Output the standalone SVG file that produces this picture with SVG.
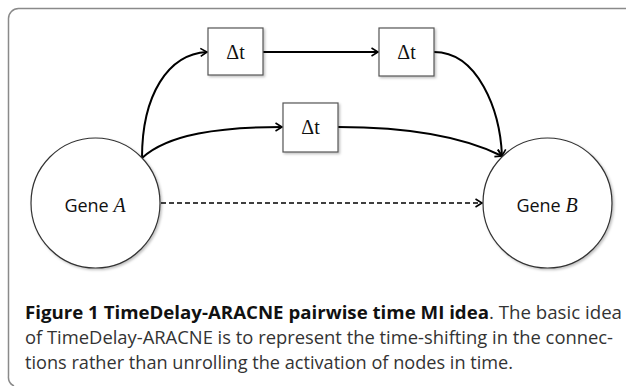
<svg xmlns="http://www.w3.org/2000/svg" width="628" height="386" viewBox="0 0 628 386">
<defs>
<style>
.box{fill:#fff;stroke:#555;stroke-width:1.2;filter:url(#sh)}
.node{fill:#fff;stroke:#333;stroke-width:1.2;filter:url(#sh)}
.dt{font-family:"Liberation Serif",serif;font-size:20px;fill:#111;text-anchor:middle}
.gene{font-family:"Open Sans","Liberation Sans",sans-serif;font-size:18px;fill:#111;text-anchor:middle}
.gi{font-family:"Liberation Serif",serif;font-style:italic;font-size:20px}
.edge{fill:none;stroke:#000;stroke-width:2;marker-end:url(#arr)}
.dash{fill:none;stroke:#000;stroke-width:1.6;stroke-dasharray:5 3;marker-end:url(#arr)}
.cap{font-family:"Open Sans","Liberation Sans",sans-serif;font-size:18.5px;fill:#333}
.capb{font-weight:bold;fill:#111}
</style>
<marker id="arr" markerWidth="10" markerHeight="10" refX="7.5" refY="5" orient="auto" markerUnits="userSpaceOnUse">
<path d="M1,1 L7.5,5 L1,9" fill="none" stroke="#000" stroke-width="1.6"/>
</marker>
<filter id="sh" x="-10%" y="-10%" width="130%" height="130%">
<feDropShadow dx="1.5" dy="1.5" stdDeviation="1" flood-color="#000" flood-opacity="0.25"/>
</filter>
</defs>
<path d="M626,8.5 H18.5 A10,10 0 0 0 8.5,18.5 V376 A10,10 0 0 0 14,386" fill="none" stroke="#8a8a8a" stroke-width="1.5"/>
<g id="connectors">
<path class="edge" d="M142,158 C142,95 168,54 207,52"/>
<path class="edge" d="M263,52 H378"/>
<path class="edge" d="M434,52 C478,52 500,110 502,156"/>
<path class="edge" d="M142,158 C168,134 220,127 282,127"/>
<path class="edge" d="M338,127 C420,127 470,140 502,156"/>
<path class="dash" d="M161,203 H482"/>
</g>
<g id="geneA">
<ellipse class="node" cx="95.5" cy="203" rx="64.5" ry="65"/>
<text class="gene" x="95" y="212">Gene <tspan class="gi">A</tspan></text>
</g>
<g id="geneB">
<ellipse class="node" cx="547.5" cy="203" rx="64.5" ry="65"/>
<text class="gene" x="547" y="212">Gene <tspan class="gi">B</tspan></text>
</g>
<g id="delay1">
<rect class="box" x="208" y="28" width="55" height="47"/>
<text class="dt" x="235.5" y="59">Δt</text>
</g>
<g id="delay2">
<rect class="box" x="379" y="28" width="55" height="48"/>
<text class="dt" x="406.5" y="59">Δt</text>
</g>
<g id="delay3">
<rect class="box" x="283" y="103" width="55" height="49"/>
<text class="dt" x="310.5" y="134">Δt</text>
</g>
<g id="caption">
<text class="cap" x="25" y="319" textLength="597" lengthAdjust="spacingAndGlyphs"><tspan class="capb">Figure 1 TimeDelay-ARACNE pairwise time MI idea</tspan>. The basic idea</text>
<text class="cap" x="25" y="344" textLength="588" lengthAdjust="spacingAndGlyphs">of TimeDelay-ARACNE is to represent the time-shifting in the connec-</text>
<text class="cap" x="25" y="369" textLength="488" lengthAdjust="spacingAndGlyphs">tions rather than unrolling the activation of nodes in time.</text>
</g>
</svg>
